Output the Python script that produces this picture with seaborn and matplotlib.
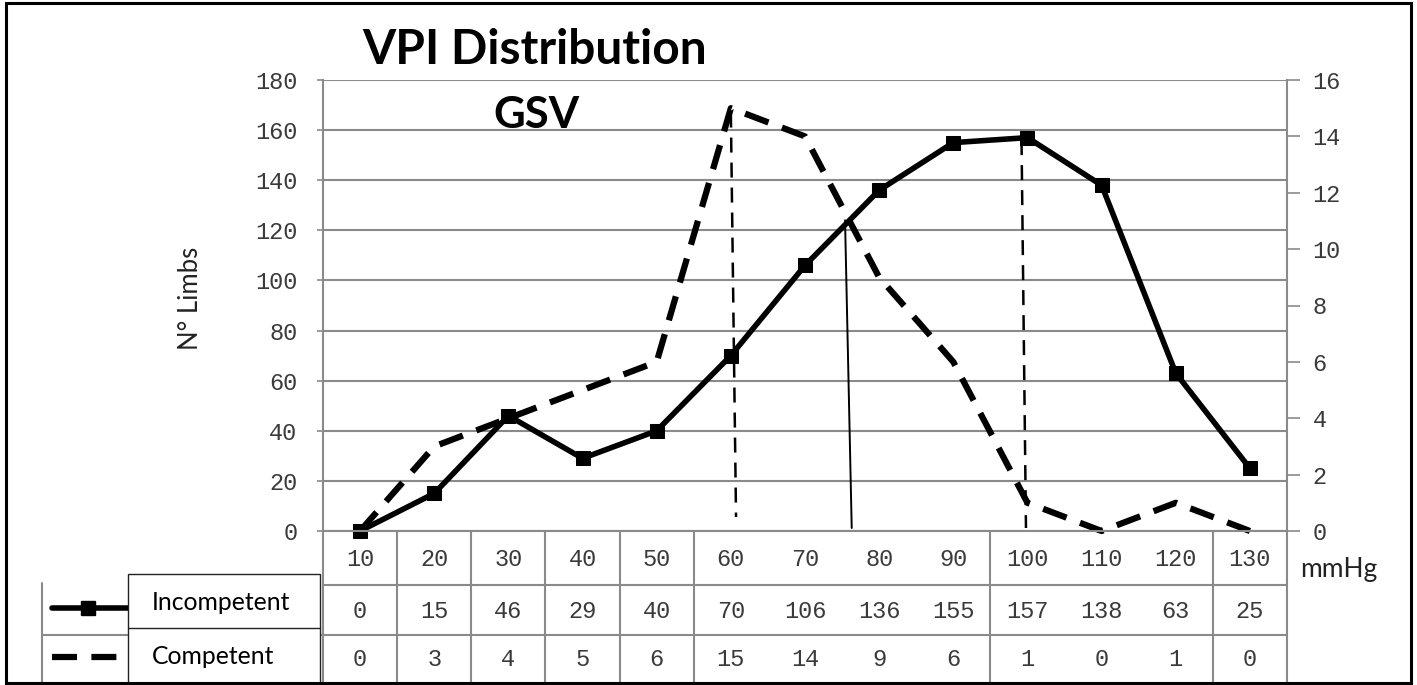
import matplotlib
matplotlib.use("Agg")
import matplotlib.pyplot as plt
import seaborn as sns
import pandas as pd
from matplotlib.lines import Line2D
from matplotlib.patches import Rectangle
import matplotlib.transforms as mtransforms

# ---------------- data ----------------
mmhg = [10, 20, 30, 40, 50, 60, 70, 80, 90, 100, 110, 120, 130]
incompetent = [0, 15, 46, 29, 40, 70, 106, 136, 155, 157, 138, 63, 25]
competent = [0, 3, 4, 5, 6, 15, 14, 9, 6, 1, 0, 1, 0]
left_ticks = [0, 20, 40, 60, 80, 100, 120, 140, 160, 180]
right_ticks = [0, 2, 4, 6, 8, 10, 12, 14, 16]

# guide lines drawn on the chart (category-index x, left-axis y)
guide_x_top = [5.00, 6.54, 8.92]
guide_x_bot = [5.07, 6.63, 8.98]
guide_y_top = [167, 124, 156]
guide_y_bot = [5.6, 1.2, 1.2]
guide_style = ["dashed", "solid", "dashed"]

# ---------------- style ----------------
sns.set_style("white")
W, H = 1417, 685
fig = plt.figure(figsize=(W / 100, H / 100), dpi=100)
fig.patch.set_facecolor("white")

SANS = ["Lato", "DejaVu Sans"]
MONO = ["Liberation Mono", "DejaVu Sans Mono"]
GRID = "#8a8a8a"
NUMC = "#3a3a3a"

def fx(px):
    return px / W

def fy(py):
    return 1 - py / H

ax = fig.add_axes([fx(323), fy(531), fx(1287) - fx(323), fy(80) - fy(531)])
ax2 = ax.twinx()

df = pd.DataFrame({"pos": list(range(len(mmhg))), "mmHg": mmhg,
                   "Incompetent": incompetent, "Competent": competent})

sns.lineplot(data=df, x="pos", y="Incompetent", ax=ax, color="black",
             linewidth=4.0, marker="s", markersize=10.5, markeredgecolor="black",
             clip_on=False, zorder=5)
sns.lineplot(data=df, x="pos", y="Competent", ax=ax2, color="black",
             linewidth=4.5, clip_on=False, zorder=5)
ax2.lines[-1].set_dashes((4, 2.3))

ax.set_xlim(-0.5, len(mmhg) - 0.5)
ax.set_ylim(0, 180)
ax2.set_ylim(0, 16)
ax.set_xticks([])
ax.set_xlabel("")
ax.set_ylabel("")
ax2.set_ylabel("")

ax.set_yticks(left_ticks)
ax2.set_yticks(right_ticks)
ax.yaxis.grid(True, color=GRID, linewidth=1.5)
ax.set_axisbelow(True)

for s in ["top", "bottom"]:
    ax.spines[s].set_visible(False)
for s in ["left", "right"]:
    ax.spines[s].set_color(GRID)
    ax.spines[s].set_linewidth(1.5)
for s in ax2.spines.values():
    s.set_visible(False)

ax.tick_params(axis="y", direction="out", length=4.5, width=1.2, color=GRID,
               pad=14, labelsize=17, labelcolor=NUMC)
ax2.tick_params(axis="y", direction="out", length=9, width=1.2, color=GRID,
                pad=9.5, labelsize=17, labelcolor=NUMC)
for lab in ax.get_yticklabels() + ax2.get_yticklabels():
    lab.set_family(MONO)

# guide vertical lines
for xt, xb, yt, yb, st in zip(guide_x_top, guide_x_bot, guide_y_top, guide_y_bot, guide_style):
    if st == "dashed":
        ax.plot([xt, xb], [yt, yb], color="black", linewidth=1.8,
                linestyle=(0, (6, 4)), zorder=4)
    else:
        ax.plot([xt, xb], [yt, yb], color="black", linewidth=1.4, zorder=4)

# ---------------- titles ----------------
fig.text(fx(362), fy(50), "VPI Distribution", family=SANS, fontweight="bold",
         fontsize=34.5, ha="left", va="center", color="black")
fig.text(fx(493), fy(115), "GSV", family=SANS, fontweight="bold",
         fontsize=31.5, ha="left", va="center", color="black")
fig.text(fx(190), fy(298), "N° Limbs", family=SANS, fontsize=18.5,
         rotation=90, ha="center", va="center", color="#222222")
fig.text(fx(1300), fy(570), "mmHg", family=SANS, fontsize=19,
         ha="left", va="center", color="#222222")

# ---------------- data table ----------------
def fline(x0, y0, x1, y1, color=GRID, lw=1.5):
    fig.add_artist(Line2D([fx(x0), fx(x1)], [fy(y0), fy(y1)], color=color,
                          linewidth=lw, transform=fig.transFigure))

col_w = (1287 - 323) / len(mmhg)
fline(323, 531, 1287, 531)
fline(323, 585, 1287, 585)
fline(42, 635, 1287, 635)
fline(42, 583, 42, 683)
for k in [0, 1, 2, 3, 4, 5, 9, 12, 13]:
    xk = 323 + k * col_w
    fline(xk, 531, xk, 683)

blend = mtransforms.blended_transform_factory(ax.transData, fig.transFigure)
rows = [(mmhg, 560), (incompetent, 611), (competent, 659)]
for vals, yc in rows:
    for i, v in enumerate(vals):
        fig.text(i, fy(yc), str(v), transform=blend, ha="center", va="center",
                 family=MONO, fontsize=17, color=NUMC)

# legend part of the table
fig.add_artist(Line2D([fx(52), fx(128)], [fy(608), fy(608)], color="black",
                      linewidth=4.0, transform=fig.transFigure))
fig.add_artist(Line2D([fx(88)], [fy(608)], color="black", marker="s",
                      markersize=10.5, linestyle="none", transform=fig.transFigure))
fig.add_artist(Line2D([fx(52), fx(128)], [fy(657), fy(657)], color="black",
                      linewidth=4.5, dashes=(4, 2.3), transform=fig.transFigure))
fig.add_artist(Rectangle((fx(128), fy(684)), fx(320) - fx(128), fy(574) - fy(684),
                         transform=fig.transFigure, facecolor="white",
                         edgecolor="#222222", linewidth=1.0, zorder=6))
fig.add_artist(Line2D([fx(128), fx(320)], [fy(628), fy(628)], color="#222222",
                      linewidth=1.0, transform=fig.transFigure, zorder=7))
fig.text(fx(152), fy(603), "Incompetent", family=SANS, fontsize=17.8,
         ha="left", va="center", color="black", zorder=8)
fig.text(fx(152), fy(657), "Competent", family=SANS, fontsize=17.8,
         ha="left", va="center", color="black", zorder=8)

# outer frame
fig.add_artist(Rectangle((fx(6), fy(683)), fx(1411) - fx(6), fy(3) - fy(683),
                         transform=fig.transFigure, facecolor="none",
                         edgecolor="black", linewidth=2.2, zorder=9))

fig.savefig("out.png", dpi=100)
